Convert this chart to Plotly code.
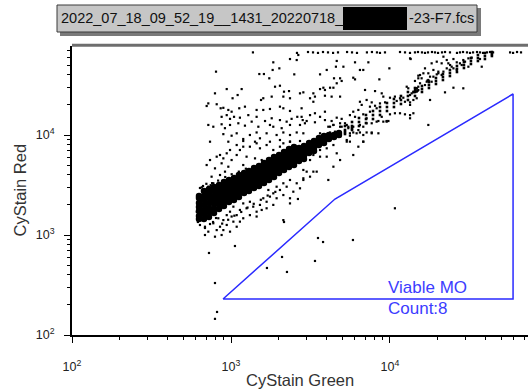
import plotly.graph_objects as go

# ---------------- data (CyStain Green, CyStain Red) ----------------
# saturated events along the top of the scale
top_x = [1374, 2600, 3050, 3280, 3525, 3790, 4075, 4385, 4710, 5370, 5770, 6200, 7160, 7700,
         8280, 8650, 9300, 11560, 12430, 13360, 14360, 15000, 15890, 16600, 17340, 18370,
         19190, 20050, 21240, 22190, 23840, 26380, 27560, 28800, 30500, 31870, 33300, 35260,
         36840, 38480, 40760, 42590, 44500, 56920, 59460, 62950, 66700]
top_y = [67000, 66200, 67600, 67000, 66200, 67600, 67000, 66200, 67000, 67600, 67000, 66200,
         67000, 67600, 67000, 66200, 67000, 67600, 67000, 66200, 67000, 67600, 67000, 66200,
         67000, 67600, 67000, 66200, 67000, 67600, 67000, 66200, 67000, 67600, 67000, 66200,
         67000, 67600, 67000, 66200, 67000, 67600, 67000, 67000, 66200, 67600, 67000]

# sparse events, upper-left cloud
upper_x = [2350, 2590, 2650, 1845, 2014, 1828, 805, 1507, 1611, 1741, 2500, 940, 1167, 793, 1023,
           1101, 1596, 1545, 1892, 2032, 2155, 2317, 2716, 1803, 2134, 2350, 703, 720, 813, 861,
           895, 962, 1009, 1127, 1224, 1449, 1596, 1758, 2032, 2134, 2350, 2780, 873, 940, 986,
           1045, 1138, 1285, 1449, 1637, 1803, 2032, 2239, 2405, 2612, 2825, 720, 774, 873, 916,
           986, 1112, 1224, 1349, 1486, 1758, 1845, 2083, 2350, 2716, 2917, 895, 1009, 1086,
           1194, 1315, 1449, 1521, 1675, 1936, 2134, 2350, 2590, 2851, 738, 962, 1194, 1416,
           1758, 2032, 2350, 2716]
upper_y = [57500, 56200, 63100, 53300, 46400, 44700, 43000, 40700, 40700, 36900, 40400, 28800,
           28800, 26100, 23300, 25100, 23300, 22400, 30400, 31100, 27100, 27500, 26100, 24200,
           24200, 23300, 19500, 20700, 20300, 18500, 18700, 17800, 17100, 18500, 19200, 17800,
           17800, 18200, 19200, 18500, 17400, 18500, 15200, 15800, 14500, 15200, 14900, 15800,
           15200, 13800, 14700, 14100, 13600, 14500, 15200, 14100, 12600, 12100, 12800, 11700,
           12600, 13100, 12400, 13600, 12100, 12600, 12100, 11700, 12600, 12600, 13100, 10200,
           9840, 10400, 9120, 10000, 10600, 9270, 10400, 10000, 10600, 10000, 10600, 10400,
           8570, 8570, 8710, 8570, 8570, 8910, 8570, 8710]

# sparse events, upper-middle cloud
mid_x = [4624, 6026, 7311, 4571, 5093, 4000, 6471, 6792, 9908, 13490, 3631, 4446, 4853, 4966,
         5875, 6026, 8570, 15070, 14360, 15070, 4624, 3811, 4198, 4406, 3631, 3899, 12740,
         13030, 14720, 14360, 14030, 15070, 6966, 8054, 8872, 9078, 2851, 3296, 3141, 3373,
         3899, 4295, 4853, 6471, 7129, 7674, 8054, 7482, 8241, 8650, 9311, 10000, 10740, 11560,
         12130, 11020, 12420, 13370, 14030, 14720, 6637, 6324, 5875, 5598, 6026, 6792, 7482,
         7129, 7674, 8453, 8872, 9528, 10000, 10740, 11560, 12420, 13370, 2780, 3141, 3373,
         3899, 3631, 2992, 3373, 3899, 4295, 4624, 4966, 5212, 4853, 4406, 4093, 5470, 6792,
         6324, 5875, 5598, 5346, 4853, 4508, 4198, 6471, 7129, 7674, 6792, 9078, 9772, 13370,
         3296]
mid_y = [55000, 53300, 53300, 48200, 48200, 44700, 44700, 44700, 46400, 57500, 40400, 36900,
         36900, 34700, 37400, 36000, 36000, 39200, 34700, 36900, 32900, 29700, 29700, 29700,
         28800, 28200, 30400, 29300, 29300, 27500, 26700, 28200, 28200, 27500, 26100, 24200,
         26700, 26100, 23300, 24200, 24700, 24200, 24200, 21500, 22400, 21200, 19600, 19200,
         18500, 20700, 21200, 23600, 24200, 23300, 23600, 21900, 21500, 21200, 22400, 23300,
         20000, 17800, 17100, 15800, 15200, 16100, 17100, 14700, 13100, 13800, 15200, 13800,
         16100, 16500, 16500, 16100, 15800, 15200, 15800, 16500, 17100, 15200, 13800, 13400,
         14100, 13800, 14900, 14500, 13100, 12100, 12600, 12100, 12100, 12100, 11200, 10600,
         9840, 8910, 9620, 10800, 10600, 10600, 10600, 10600, 8570, 13600, 13800, 20000, 21500]

# sparse events, upper-right
right_x = [13370, 18280, 19680, 21680, 22750, 21130, 25060, 27540, 28910, 31120, 32660, 29650,
           28250, 36810, 37760, 16600, 18750, 20140, 21680, 22750, 23880, 24430, 25060, 26300,
           21130, 19680, 17860, 17420, 17020, 18280, 15810, 15450, 15070, 14720, 14360, 14030,
           13680, 13370, 15450, 16220, 17420, 22180, 25060, 28910, 17860, 14030, 13370, 17420,
           14720, 16600, 18750, 20140, 23280, 26300, 31120, 17200, 17600, 14500, 14900]
right_y = [58400, 52100, 54100, 60700, 56200, 52100, 57500, 52100, 56200, 58400, 59300, 54100,
           50100, 57500, 48200, 46400, 44700, 43000, 43000, 46400, 50100, 48200, 46400, 44700,
           39800, 40400, 38300, 35500, 34100, 34100, 36900, 32900, 30400, 29300, 28200, 27100,
           26100, 25100, 39800, 41400, 41400, 26700, 29700, 29300, 22400, 16500, 14700, 12600,
           27100, 31600, 38300, 41400, 52100, 53300, 48200, 35000, 34400, 28000, 27600]

# sparse events around the main population
near_x = [703, 738, 793, 813, 853, 895, 940, 873, 917, 962, 986, 1009, 1086, 1138, 1194, 1253,
          1315, 1449, 1521, 1675, 1845, 2032, 2134, 2350, 755, 774, 720, 853, 1086, 1416, 1560,
          1194, 738, 774, 813, 853, 895, 940, 986, 1035, 1086, 1138, 1194, 1253, 1315, 1380,
          1449, 1521, 1596, 1675, 1758, 1845, 1936, 2032, 2134, 2239, 2350, 2466, 2590, 2716,
          2851, 940, 1035, 1086, 986, 873, 793, 895, 1138, 1194, 1315, 1449, 1560, 1675, 1845,
          2134, 2350, 2134, 2350, 1936, 1718, 686, 720, 686, 832, 1009,
          4198, 4406, 4853, 5346, 5875, 6471, 7129, 8241, 9528, 5598, 6166, 6792, 7674, 8453,
          5346, 5598, 6792, 6324, 4406, 4000, 3631, 4624, 5875, 4853, 4000, 3631, 3296, 3141,
          4406, 2851, 2992, 3296, 3459, 4093, 3141, 2851, 4966, 5470, 3631, 3811, 4093, 3631,
          638, 667, 706, 638, 686, 738, 619, 771, 805, 2155, 2636, 793, 817, 793, 1059, 727,
          880, 960, 1050, 1160, 1270, 1390, 1540, 1700, 1900, 760, 830, 920, 1010, 1120, 1240,
          655, 700, 745, 610, 1350, 1620, 1980, 2420, 2950, 3500]
near_y = [5010, 5620, 4640, 6070, 6310, 5840, 6560, 5210, 4300, 4820, 7080, 5620, 6310, 7080,
          7640, 6070, 7640, 8260, 7360, 7940, 7080, 7640, 8260, 8580, 3830, 3290, 3040, 3980,
          7940, 5840, 5620, 5010, 1530, 1310, 1120, 1210, 1410, 1580, 1710, 1920, 1580, 1780,
          2070, 1850, 2150, 1920, 1710, 2000, 2330, 2150, 2420, 2610, 2330, 2820, 2510, 3040,
          2330, 2710, 3290, 2930, 3550, 1260, 1360, 1210, 1080, 1000, 962, 1120, 1360, 1470,
          1580, 1530, 1780, 1850, 2000, 1410, 2070, 3290, 3550, 3040, 2820, 1210, 1080, 1000,
          1470, 1530,
          12100, 12600, 13100, 12600, 12100, 12600, 13100, 13600, 13600, 10400, 10400, 10000,
          10400, 10400, 8580, 8580, 8580, 7640, 7940, 7360, 7080, 6560, 6310, 5620, 6070, 6070,
          6310, 5620, 4820, 4470, 4300, 4300, 4300, 3550, 3830, 3690, 12100, 11700, 8260, 8910,
          9620, 10400,
          2951, 3090, 2818, 1259, 1175, 1288, 1349, 1349, 1479, 1349, 2291, 331, 170, 145, 776, 661,
          1300, 1420, 1560, 1700, 1880, 2050, 2250, 2480, 2700, 3300, 3500, 3800, 4050, 4300, 4600,
          3000, 3250, 3150, 1700, 4000, 4500, 5300, 6400, 7600, 8500]

# events inside the gate
gated_x = [10740, 3525, 3793, 5848, 2094, 1683, 2249, 3375]
gated_y = [1850, 933, 851, 891, 603, 468, 427, 550]

# dense main population: one column per Green value, Red values listed per column
band_col_x = [629, 676, 727, 782, 841, 903, 971, 1044, 1122, 1208, 1297, 1396, 1500, 1613,
              1734, 1864, 2005, 2155, 2317, 2490, 2679, 2877, 3097, 3327, 3573, 3846, 4130,
              4446, 4775]
band_col_y = [
    [2455, 2344, 2089, 1905, 1738, 1549, 1445],
    [2754, 2455, 2239, 1995, 1778, 1622, 1445],
    [2884, 2570, 2344, 2089, 1862, 1698, 1514],
    [3020, 2754, 2455, 2239, 2042, 1820, 1660],
    [3162, 2884, 2630, 2399, 2188, 1995, 1820],
    [3388, 3090, 2818, 2570, 2344, 2138, 1950],
    [3548, 3236, 3020, 2754, 2512, 2344, 2138],
    [3715, 3388, 3162, 2884, 2630, 2455, 2239],
    [3981, 3631, 3388, 3090, 2818, 2630, 2399],
    [4169, 3890, 3548, 3311, 3090, 2818, 2630],
    [4365, 4074, 3715, 3467, 3236, 2951, 2754],
    [4677, 4365, 3981, 3715, 3467, 3162, 2951],
    [4898, 4571, 4169, 3890, 3631, 3311, 3090],
    [5248, 4898, 4467, 4169, 3890, 3548, 3311],
    [5623, 5248, 4786, 4467, 4169, 3802, 3548],
    [6026, 5623, 5129, 4786, 4467, 4074, 3802],
    [6310, 5888, 5495, 5129, 4786, 4467, 4169],
    [6761, 6310, 5888, 5495, 5129, 4786, 4467],
    [7244, 6761, 6310, 5888, 5495, 5129, 4786],
    [7586, 7079, 6607, 6166, 5754, 5370, 5012],
    [7413, 7079, 6607, 6166, 5888, 5495],
    [7762, 7413, 6918, 6457, 6166, 5754],
    [8318, 7943, 7413, 6918, 6607],
    [8710, 8128, 7762, 7413, 6918],
    [9333, 8710, 8318, 7943],
    [9772, 9120, 8710, 8318],
    [10000, 9550, 9120],
    [10000, 9550],
    [10470, 10000],
]

# thinner continuation of the main population
trail_col_x = [5212, 5768, 6383, 7063, 7817, 8650, 9572, 10590, 11720, 12970, 14360, 15890,
               17580, 19460, 21530, 23820, 26370, 29180, 32290, 35730, 39540, 43750]
trail_col_y = [
    [12300, 11220, 10230, 10700], [13490, 12300, 11220, 11700], [14790, 13490, 12300],
    [15850, 14450, 13180], [17380, 15850, 14450], [19050, 17380, 15850], [20890, 19050, 17380],
    [22910, 20890, 19050], [24550, 22390, 20420], [26920, 24550, 22390], [29510, 26920, 24550],
    [30900, 28840, 26920], [33880, 31620, 29510], [37150, 34670, 32360], [40740, 38020, 35480],
    [44670, 41690, 38900], [48980, 45710, 42660], [53700, 50120, 46770], [58880, 54950, 51290],
    [63100, 58880, 54950], [66070, 61660, 57540], [67610, 64570, 61660],
]

# gate "Viable MO" vertices
gate_x = [891, 4508, 59430, 59430, 891]
gate_y = [229, 2291, 25700, 229, 229]
gate_name = "Viable MO"
gate_count = 8

x_tickvals = [100, 1000, 10000]
x_ticktext = ["10<sup>2</sup>", "10<sup>3</sup>", "10<sup>4</sup>"]
y_tickvals = [100, 1000, 10000]
y_ticktext = ["10<sup>2</sup>", "10<sup>3</sup>", "10<sup>4</sup>"]
minor_vals = [200, 300, 400, 500, 600, 700, 800, 900, 2000, 3000, 4000, 5000, 6000, 7000,
              8000, 9000, 20000, 30000, 40000, 50000, 60000, 70000]

file_left = "2022_07_18_09_52_19__1431_20220718_"
file_right = "-23-F7.fcs"

# ---------------- figure ----------------
band_x, band_y = [], []
for cx, ys in zip(band_col_x, band_col_y):
    band_x += [cx] * len(ys)
    band_y += ys
trail_x, trail_y = [], []
for cx, ys in zip(trail_col_x, trail_col_y):
    trail_x += [cx] * len(ys)
    trail_y += ys

FONT = "Liberation Sans, Arial, sans-serif"
fig = go.Figure()
fig.add_trace(go.Scatter(x=band_x, y=band_y, mode="markers", hoverinfo="skip",
                         marker=dict(color="black", size=6.5, symbol="circle", line_width=0)))
fig.add_trace(go.Scatter(x=trail_x, y=trail_y, mode="markers", hoverinfo="skip",
                         marker=dict(color="black", size=2.6, symbol="square", line_width=0)))
sx = top_x + upper_x + mid_x + right_x + near_x + gated_x
sy = top_y + upper_y + mid_y + right_y + near_y + gated_y
fig.add_trace(go.Scatter(x=sx, y=sy, mode="markers", hoverinfo="skip",
                         marker=dict(color="black", size=2.2, symbol="square", line_width=0)))
fig.add_trace(go.Scatter(x=gate_x, y=gate_y, mode="lines", hoverinfo="skip",
                         line=dict(color="#2a2aff", width=1.5)))

W, H = 528, 392
L, R, T, B = 72, 0, 46, 57
pw, ph = W - L - R, H - T - B


def px(xp):
    return (xp - L) / pw


def py(yp):
    return (H - B - yp) / ph


axis_common = dict(type="log", showgrid=False, zeroline=False, showline=True,
                   linecolor="black", linewidth=2, ticks="outside", ticklen=6,
                   tickwidth=1, tickcolor="black",
                   tickfont=dict(family=FONT, size=12.5, color="#222"),
                   minor=dict(tickvals=minor_vals, ticks="outside", ticklen=3,
                              tickwidth=1, tickcolor="black", showgrid=False))

fig.update_layout(
    width=W, height=H, margin=dict(l=L, r=R, t=T, b=B),
    plot_bgcolor="white", paper_bgcolor="white", showlegend=False,
    xaxis=dict(range=[2, 4.868], tickvals=x_tickvals, ticktext=x_ticktext,
               ticklabelstandoff=13, **axis_common),
    yaxis=dict(range=[2, 4.89], tickvals=y_tickvals, ticktext=y_ticktext,
               ticklabelstandoff=7, **axis_common),
    shapes=[
        # top frame edge
        dict(type="line", xref="paper", yref="paper", x0=0, x1=1, y0=1.003, y1=1.003,
             line=dict(color="#6e6e6e", width=3)),
        # title box shadow
        dict(type="rect", xref="paper", yref="paper", x0=px(60), x1=px(481),
             y0=py(36), y1=py(8), fillcolor="#7a7a7a", line=dict(width=0)),
        # title box
        dict(type="rect", xref="paper", yref="paper", x0=px(57), x1=px(477),
             y0=py(32), y1=py(5), fillcolor="#c6c6c6", line=dict(color="#3a3a3a", width=1)),
        # redaction
        dict(type="rect", xref="paper", yref="paper", x0=px(343), x1=px(407),
             y0=py(30), y1=py(7), fillcolor="black", line=dict(width=0)),
    ],
    annotations=[
        dict(text=file_left, xref="paper", yref="paper", x=px(59), y=py(18.5),
             xanchor="left", yanchor="middle", showarrow=False,
             font=dict(family=FONT, size=14.5, color="#111")),
        dict(text=file_right, xref="paper", yref="paper", x=px(407), y=py(18.5),
             xanchor="left", yanchor="middle", showarrow=False,
             font=dict(family=FONT, size=14.5, color="#111")),
        dict(text="CyStain Green", xref="paper", yref="paper", x=0.5, y=py(380),
             xanchor="center", yanchor="middle", showarrow=False,
             font=dict(family=FONT, size=16.5, color="#333")),
        dict(text="CyStain Red", xref="paper", yref="paper", x=px(19), y=0.5,
             xanchor="center", yanchor="middle", showarrow=False, textangle=-90,
             font=dict(family=FONT, size=16.5, color="#333")),
        dict(text=gate_name, xref="paper", yref="paper", x=px(386), y=py(287),
             xanchor="left", yanchor="middle", showarrow=False,
             font=dict(family=FONT, size=17, color="#3c3cff")),
        dict(text=f"Count:{gate_count}", xref="paper", yref="paper", x=px(386), y=py(308),
             xanchor="left", yanchor="middle", showarrow=False,
             font=dict(family=FONT, size=17, color="#3c3cff")),
    ],
)

fig.write_html("out.html")
